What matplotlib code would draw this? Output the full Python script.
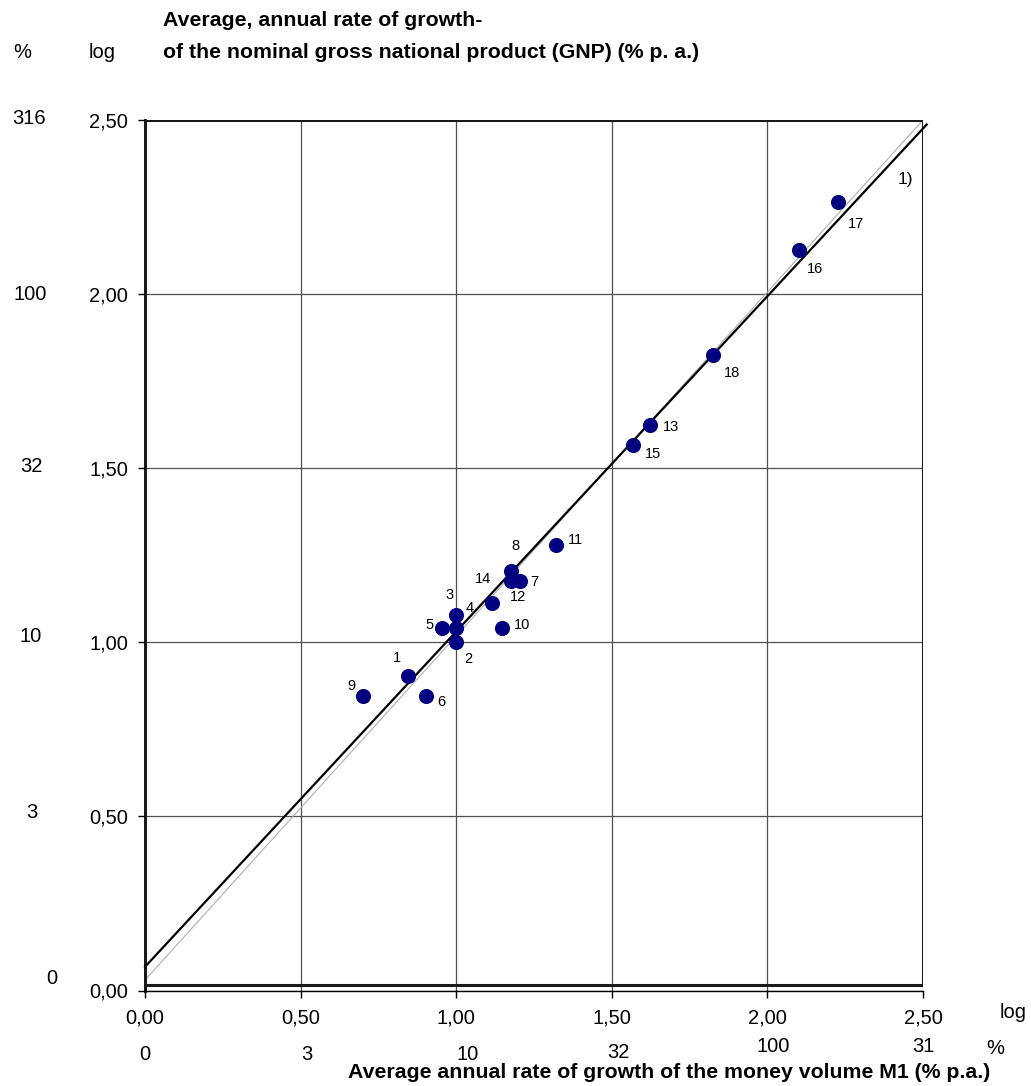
import matplotlib.pyplot as plt
from matplotlib.patches import Rectangle

plt.rcParams['font.family'] = ['Liberation Sans', 'DejaVu Sans']

# log10 of average annual growth rates, one point per country
country = [1, 2, 3, 4, 5, 6, 7, 8, 9, 10, 11, 12, 13, 14, 15, 16, 17, 18]
m1_log = [0.845, 1.000, 1.000, 1.000, 0.954, 0.903, 1.204, 1.176, 0.699,
          1.146, 1.322, 1.114, 1.623, 1.176, 1.568, 2.100, 2.228, 1.826]
gnp_log = [0.903, 1.000, 1.079, 1.041, 1.041, 0.845, 1.176, 1.204, 0.845,
           1.041, 1.279, 1.114, 1.623, 1.176, 1.568, 2.127, 2.265, 1.826]

# fitted line 1) and the 45 degree reference
fit_x = [0.0, 2.512]
fit_y = [0.068, 2.487]
diag_x = [0.0, 2.5]
diag_y = [0.03, 2.5]

ticks = [0.0, 0.5, 1.0, 1.5, 2.0, 2.5]
tick_labels = ['0,00', '0,50', '1,00', '1,50', '2,00', '2,50']
y_pct = ['316', '100', '32', '10', '3', '0']
x_pct = ['0', '3', '10', '32', '100', '31']

W, H = 1031, 1086
fig = plt.figure(figsize=(W / 100, H / 100), dpi=100)
ax = fig.add_axes([145 / W, 95.5 / H, 778 / W, 870.5 / H])


def px(x, y):
    return x / W, 1 - y / H


ax.set_xlim(0, 2.5)
ax.set_ylim(0, 2.5)
ax.set_xticks(ticks)
ax.set_xticklabels(tick_labels)
ax.set_yticks(ticks)
ax.set_yticklabels(tick_labels)
ax.tick_params(direction='out', length=5, width=1, labelsize=14.5, colors='black')
ax.tick_params(axis='x', pad=8)
ax.tick_params(axis='y', pad=7)
ax.grid(True, color='#505050', linewidth=0.9)
ax.set_axisbelow(True)
for s in ['top', 'right']:
    ax.spines[s].set_visible(False)
ax.spines['left'].set_linewidth(2)
ax.spines['bottom'].set_linewidth(1)

# outer frame of the plot area
ax.add_patch(Rectangle((0, 0.015), 2.5, 2.485, fill=False,
                       edgecolor='#1a1a1a', linewidth=2.2, zorder=3))

ax.plot(diag_x, diag_y, color='#b0b0b0', linewidth=0.8, zorder=2)
ax.plot(fit_x, fit_y, color='black', linewidth=1.6, zorder=4, clip_on=False)

ax.scatter(m1_log, gnp_log, s=118, color='#000080', zorder=5, linewidths=0)

offsets = {1: (-11, -18), 2: (12, 17), 3: (-7, -20), 4: (13, -20), 5: (-12, -3),
           6: (15, 6), 7: (15, 1), 8: (4, -25), 9: (-11, -10), 10: (20, -3),
           11: (19, -5), 12: (26, -6), 13: (21, 2), 14: (-28, -2), 15: (20, 9),
           16: (16, 19), 17: (18, 22), 18: (19, 18)}
for c, xv, yv in zip(country, m1_log, gnp_log):
    dx, dy = offsets[c]
    ax.annotate(str(c), (xv, yv), xytext=(dx, -dy), textcoords='offset pixels',
                ha='center', va='center', fontsize=10.5)

ax.text(2.442, 2.328, '1)', fontsize=12.5, ha='center', va='center')

# percent scale next to the log scales
for lab, (x, y) in zip(y_pct, [(29, 118), (30, 294), (31, 467), (31, 636), (32, 812), (52, 979)]):
    fig.text(*px(x, y), lab, fontsize=14.5, ha='center', va='center')
for lab, (x, y) in zip(x_pct, [(145, 1054), (307, 1055), (468, 1055), (618, 1053), (773, 1046), (923, 1047)]):
    fig.text(*px(x, y), lab, fontsize=14.5, ha='center', va='center')
fig.text(*px(995, 1048), '%', fontsize=14.5, ha='center', va='center')
fig.text(*px(1013, 1013), 'log', fontsize=14.5, ha='center', va='center')
fig.text(*px(22, 52), '%', fontsize=14.5, ha='center', va='center')
fig.text(*px(102, 52), 'log', fontsize=14.5, ha='center', va='center')

fig.text(*px(163, 20), 'Average, annual rate of growth-', fontsize=15.3,
         fontweight='bold', ha='left', va='center')
fig.text(*px(163, 52), 'of the nominal gross national product (GNP) (% p. a.)',
         fontsize=15.3, fontweight='bold', ha='left', va='center')
fig.text(*px(669, 1073), 'Average annual rate of growth of the money volume M1 (% p.a.)',
         fontsize=15.3, fontweight='bold', ha='center', va='center')

fig.savefig('out.png', dpi=100)
